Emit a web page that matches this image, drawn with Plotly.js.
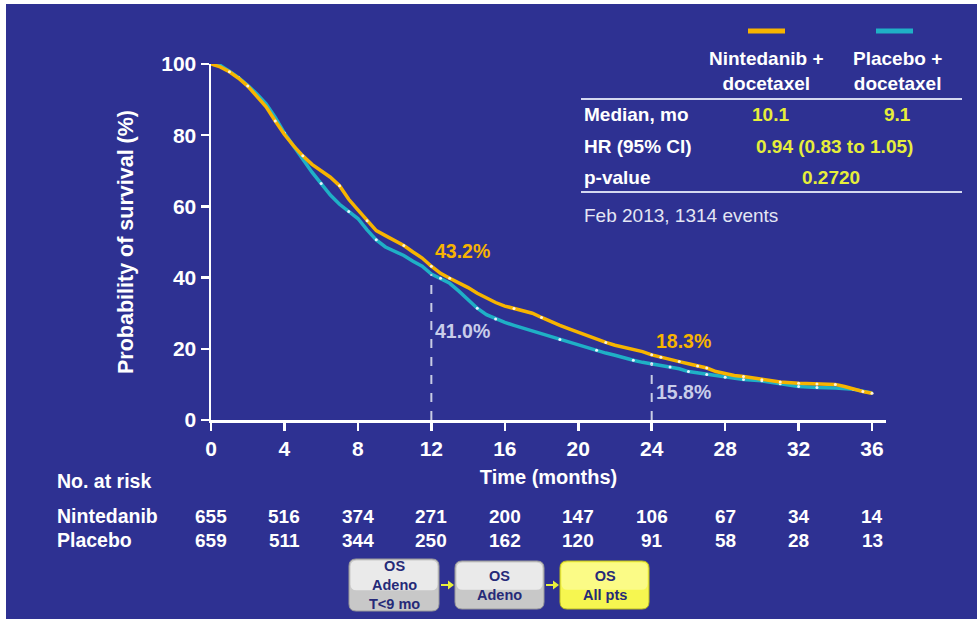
<!DOCTYPE html>
<html><head><meta charset="utf-8">
<script src="https://cdn.plot.ly/plotly-3.0.1.min.js"></script>
<style>html,body{margin:0;padding:0;background:#fff;width:977px;height:619px;overflow:hidden}
#chart{position:absolute;left:6px;top:4px;width:971px;height:615px}</style>
</head><body><div id="chart"></div><script>
// ---- data ----
const nintTime = [0,0.5,1,1.5,2,2.5,3,3.5,4,4.5,5,5.5,6,6.5,7,7.5,8,8.5,9,9.5,10,10.5,11,11.5,12,12.5,13,13.5,14,14.5,15,15.5,16,16.5,17,17.5,18,18.5,19,19.5,20,20.5,21,21.5,22,22.5,23,23.5,24,24.5,25,25.5,26,26.5,27,27.5,28,28.5,29,29.5,30,31,32,33,34,34.5,35,35.5,36];
const nintSurv = [100,99.2,97.8,96.0,93.8,91.0,88.0,84.0,80.2,77.0,74.2,71.8,70.0,68.2,65.8,62.0,59.0,56.0,53.2,51.8,50.5,49.0,47.2,45.5,43.2,41.2,39.8,38.5,37.2,35.6,34.2,33.0,32.0,31.3,30.6,30.0,28.8,27.6,26.6,25.6,24.6,23.6,22.6,21.8,21.0,20.4,20.0,19.2,18.3,17.6,17.0,16.4,15.8,15.2,14.6,13.6,13.0,12.5,12.2,11.8,11.3,10.7,10.3,10.1,10.0,9.4,8.6,8.0,7.5];
const placTime = [0,0.5,1,1.5,2,2.5,3,3.5,4,4.5,5,5.5,6,6.5,7,7.5,8,8.5,9,9.5,10,10.5,11,11.5,12,12.5,13,13.5,14,14.5,15,15.5,16,16.5,17,17.5,18,18.5,19,19.5,20,20.5,21,21.5,22,22.5,23,23.5,24,24.5,25,25.5,26,26.5,27,27.5,28,28.5,29,30,31,32,33,34,35,35.5,36];
const placSurv = [100,99.6,98.0,96.2,94.0,91.6,88.8,85.0,80.6,76.8,73.2,69.6,66.4,63.2,60.6,58.6,56.6,53.4,50.6,48.6,47.4,46.2,44.6,43.2,41.0,39.8,38.4,36.2,33.8,31.4,29.6,28.4,27.4,26.6,25.8,25.0,24.2,23.4,22.6,21.8,21.2,20.4,19.6,18.8,18.2,17.4,16.8,16.2,15.8,15.4,14.9,14.4,13.6,13.2,12.8,12.4,12.0,11.7,11.4,11.0,10.2,9.4,9.1,9.0,8.6,8.0,7.6];
const nintCensor = [1,2,3.5,5,7,8.5,10.5,12,13,16.5,18,21.5,24,24.5,25.5,26.5,27,29,30,31,32,33,34,35.5,36];
const placCensor = [1.5,4,6,7.5,9,12.5,14.5,15.5,19,21,23,24,25,26,27,28,29,30,31,32,33,35];
const riskTimes = [0,4,8,12,16,20,24,28,32,36];
const riskNint = [655,516,374,271,200,147,106,67,34,14];
const riskPlac = [659,511,344,250,162,120,91,58,28,13];
const landmarkTimes = [12,24];
const landmarkNint = [43.2,18.3];
const landmarkPlac = [41.0,15.8];
const xTicks = [0,4,8,12,16,20,24,28,32,36];
const yTicks = [0,20,40,60,80,100];
const headerNint = 'Nintedanib +<br>docetaxel';
const headerPlac = 'Placebo +<br>docetaxel';
const statLabels = ['Median, mo','HR (95% CI)','p-value'];
const medians = ['10.1','9.1'];
const hrText = '0.94 (0.83 to 1.05)';
const pValue = '0.2720';
const footnote = 'Feb 2013, 1314 events';
const riskRowLabels = ['Nintedanib','Placebo'];
const flowBoxes = ['OS<br>Adeno<br>T&lt;9 mo','OS<br>Adeno','OS<br>All pts'];

// ---- styling / layout helpers ----
const BG = '#2E3192', ORANGE = '#F7B400', TEAL = '#1FB0C6', YEL = '#E6EE3A', PALE = '#C9CDEA';
const FONT = 'Liberation Sans, Arial, Helvetica, sans-serif';
const OX = 6, OY = 4, W = 971, H = 615;
const M = {l:205, r:91, t:60, b:199};
const PW = W - M.l - M.r, PH = H - M.t - M.b;
const px = X => (X - OX - M.l) / PW;
const py = Y => 1 - (Y - OY - M.t) / PH;
function stepAt(ts, ss, t){ let v = ss[0]; for (let i=0;i<ts.length;i++){ if (ts[i] <= t) v = ss[i]; } return v; }
const NINT_LABEL_OFFSET = [4.4, 3.9];
const PLAC_LABEL_OFFSET = [-16.0, -7.9];

const traces = [
  {x: placTime, y: placSurv, type:'scatter', mode:'lines', line:{color:TEAL, width:3.5}, name:'Placebo + docetaxel', hoverinfo:'x+y'},
  {x: placCensor, y: placCensor.map(t=>stepAt(placTime,placSurv,t)), type:'scatter', mode:'markers', marker:{color:'#E8F4FF', size:3}, hoverinfo:'skip', showlegend:false},
  {x: nintTime, y: nintSurv, type:'scatter', mode:'lines', line:{color:ORANGE, width:3.5}, name:'Nintedanib + docetaxel', hoverinfo:'x+y'},
  {x: nintCensor, y: nintCensor.map(t=>stepAt(nintTime,nintSurv,t)), type:'scatter', mode:'markers', marker:{color:'#FFF4D8', size:3}, hoverinfo:'skip', showlegend:false}
];

const shapes = [];
const ann = [];
const bold = (size, color) => ({family:FONT, size:size, color:color, weight:700});

// landmark dashed lines
landmarkTimes.forEach((t,i)=>{
  shapes.push({type:'line', xref:'x', yref:'y', x0:t, x1:t, y0:0, y1:landmarkPlac[i], line:{color:'#C8CCE4', width:2, dash:'dash'}});
  ann.push({xref:'x', yref:'y', x:t, y:landmarkNint[i]+NINT_LABEL_OFFSET[i], xanchor:'left', yanchor:'middle', xshift:2, text:landmarkNint[i].toFixed(1)+'%', showarrow:false, font:bold(19.5, ORANGE)});
  ann.push({xref:'x', yref:'y', x:t, y:landmarkPlac[i]+PLAC_LABEL_OFFSET[i], xanchor:'left', yanchor:'middle', xshift:2, text:landmarkPlac[i].toFixed(1)+'%', showarrow:false, font:bold(19.5, PALE)});
});

// legend swatches and header table
shapes.push({type:'line', xref:'paper', yref:'paper', x0:px(748), x1:px(785), y0:py(31), y1:py(31), line:{color:ORANGE, width:5}});
shapes.push({type:'line', xref:'paper', yref:'paper', x0:px(876), x1:px(913), y0:py(31), y1:py(31), line:{color:TEAL, width:5}});
ann.push({xref:'paper', yref:'paper', x:px(766), y:py(71), text:headerNint, showarrow:false, font:bold(19,'#FFFFFF'), xanchor:'center', yanchor:'middle'});
ann.push({xref:'paper', yref:'paper', x:px(898), y:py(71), text:headerPlac, showarrow:false, font:bold(19,'#FFFFFF'), xanchor:'center', yanchor:'middle'});
shapes.push({type:'line', xref:'paper', yref:'paper', x0:px(581), x1:px(962), y0:py(99), y1:py(99), line:{color:'#D4D8F0', width:2}});
shapes.push({type:'line', xref:'paper', yref:'paper', x0:px(581), x1:px(962), y0:py(192), y1:py(192), line:{color:'#D4D8F0', width:2}});
const rowY = [115,146,177];
statLabels.forEach((s,i)=>ann.push({xref:'paper', yref:'paper', x:px(582), y:py(rowY[i]), text:s, showarrow:false, font:bold(19,'#FFFFFF'), xanchor:'left', yanchor:'middle'}));
ann.push({xref:'paper', yref:'paper', x:px(770), y:py(115), text:medians[0], showarrow:false, font:bold(19,YEL), xanchor:'center', yanchor:'middle'});
ann.push({xref:'paper', yref:'paper', x:px(897), y:py(115), text:medians[1], showarrow:false, font:bold(19,YEL), xanchor:'center', yanchor:'middle'});
ann.push({xref:'paper', yref:'paper', x:px(834), y:py(146), text:hrText, showarrow:false, font:bold(19,YEL), xanchor:'center', yanchor:'middle'});
ann.push({xref:'paper', yref:'paper', x:px(831), y:py(177), text:pValue, showarrow:false, font:bold(19,YEL), xanchor:'center', yanchor:'middle'});
ann.push({xref:'paper', yref:'paper', x:px(582), y:py(215), text:footnote, showarrow:false, font:{family:FONT, size:19, color:'#E4E6F4'}, xanchor:'left', yanchor:'middle'});

// at-risk table
ann.push({xref:'paper', yref:'paper', x:px(55), y:py(481), text:'No. at risk', showarrow:false, font:bold(19.5,'#FFFFFF'), xanchor:'left', yanchor:'middle'});
[riskNint, riskPlac].forEach((row,r)=>{
  const yy = r===0 ? 516 : 540;
  ann.push({xref:'paper', yref:'paper', x:px(55), y:py(yy), text:riskRowLabels[r], showarrow:false, font:bold(19.5,'#FFFFFF'), xanchor:'left', yanchor:'middle'});
  row.forEach((v,i)=>ann.push({xref:'x', yref:'paper', x:riskTimes[i], y:py(yy), text:String(v), showarrow:false, font:bold(19,'#FFFFFF'), xanchor:'center', yanchor:'middle'}));
});

// flow boxes
function rrect(x0,y0,x1,y1,r){
  const X0=px(x0), X1=px(x1), Y0=py(y0), Y1=py(y1), rx=r/PW, ry=r/PH;
  return `M${X0+rx},${Y0} L${X1-rx},${Y0} Q${X1},${Y0} ${X1},${Y0-ry} L${X1},${Y1+ry} Q${X1},${Y1} ${X1-rx},${Y1} L${X0+rx},${Y1} Q${X0},${Y1} ${X0},${Y1+ry} L${X0},${Y0-ry} Q${X0},${Y0} ${X0+rx},${Y0} Z`;
}
const boxes = [[349,559,439,611],[455,561,544,609],[560,561,649,609]];
boxes.forEach((b,i)=>{
  const fill = i===2 ? '#F6F650' : '#C8C8C8';
  const edge = i===2 ? '#BDBD20' : '#9A9A9A';
  shapes.push({type:'path', xref:'paper', yref:'paper', path:rrect(b[0],b[1],b[2],b[3],7), fillcolor:fill, line:{color:edge, width:1}});
  shapes.push({type:'path', xref:'paper', yref:'paper', path:rrect(b[0]+1.5,b[1]+1.5,b[2]-1.5,b[1]+(b[3]-b[1])*0.6,6), fillcolor: i===2 ? 'rgba(255,255,170,0.6)' : 'rgba(245,245,245,0.75)', line:{width:0}});
  ann.push({xref:'paper', yref:'paper', x:px((b[0]+b[2])/2), y:py((b[1]+b[3])/2), text:flowBoxes[i], showarrow:false, font:bold(14.5,'#262A78'), xanchor:'center', yanchor:'middle'});
});
[[440,454],[545,559]].forEach(a=>{
  shapes.push({type:'line', xref:'paper', yref:'paper', x0:px(a[0]+1), x1:px(a[1]-5), y0:py(585), y1:py(585), line:{color:'#E8F03C', width:2}});
  shapes.push({type:'path', xref:'paper', yref:'paper', path:`M${px(a[1]-6)},${py(580.5)} L${px(a[1])},${py(585)} L${px(a[1]-6)},${py(589.5)} Z`, fillcolor:'#E8F03C', line:{width:0}});
});

const layout = {
  width:W, height:H, margin:M,
  paper_bgcolor:BG, plot_bgcolor:BG, showlegend:false,
  xaxis:{range:[0,36.76], tickvals:xTicks, ticks:'outside', ticklen:8, tickwidth:2.5, tickcolor:'#FFFFFF',
         showline:true, linecolor:'#FFFFFF', linewidth:2.5, showgrid:false, zeroline:false,
         tickfont:bold(21,'#FFFFFF'), title:{text:'Time (months)', font:bold(20,'#FFFFFF'), standoff:12}},
  yaxis:{range:[0,100], tickvals:yTicks, ticks:'outside', ticklen:8, tickwidth:2.5, tickcolor:'#FFFFFF',
         showline:true, linecolor:'#FFFFFF', linewidth:2.5, showgrid:false, zeroline:false,
         tickfont:bold(21,'#FFFFFF'), title:{text:'Probability of survival (%)', font:bold(21.5,'#FFFFFF'), standoff:22}},
  shapes:shapes, annotations:ann
};
Plotly.newPlot('chart', traces, layout, {displayModeBar:false, staticPlot:true});
</script></body></html>
